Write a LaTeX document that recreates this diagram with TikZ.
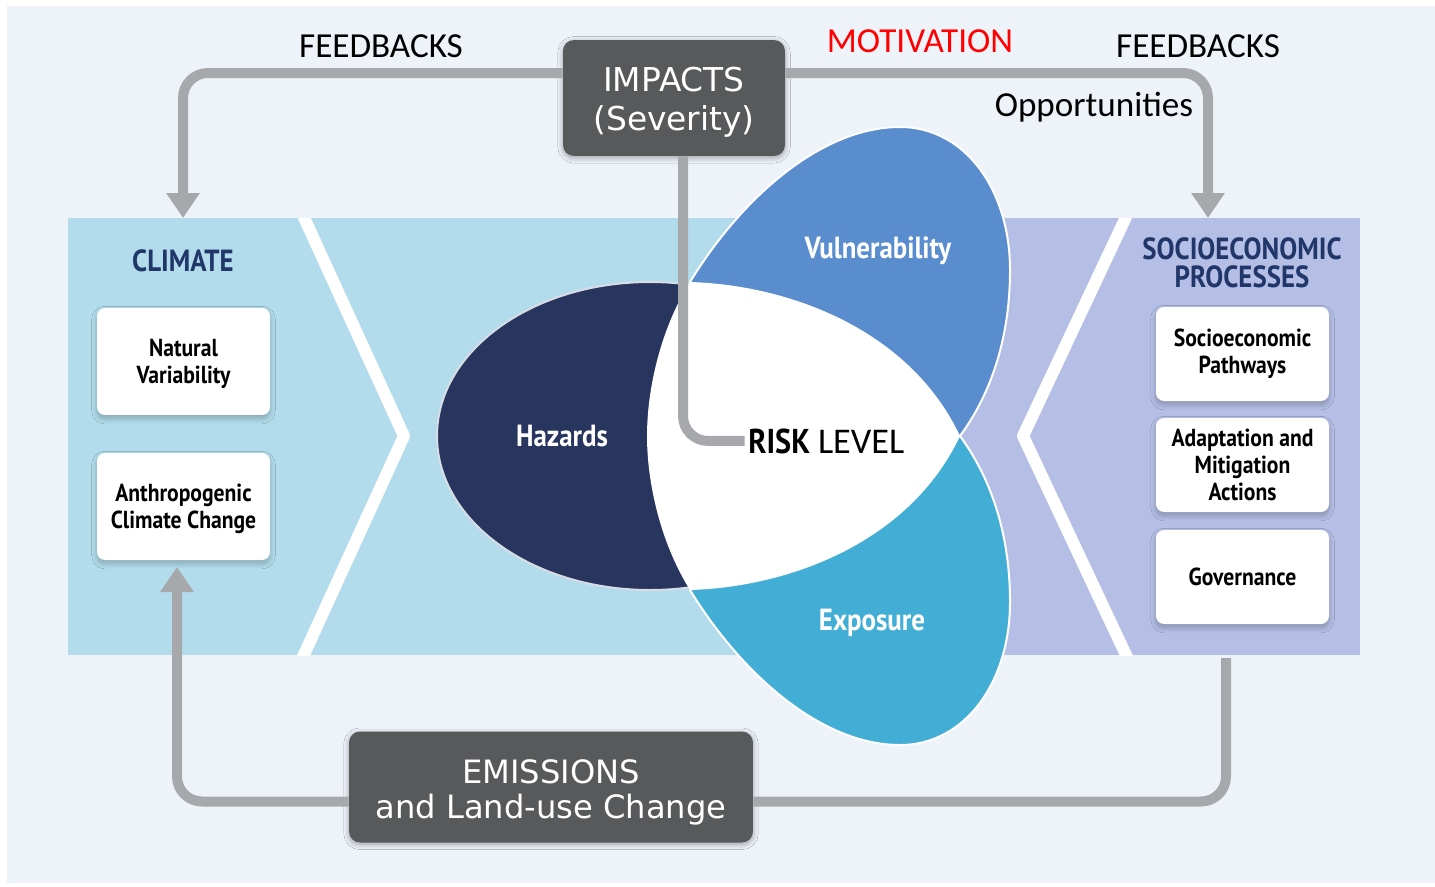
\documentclass[tikz,border=0pt]{standalone}
\usepackage{fontspec}
\usepackage{xcolor}
\usetikzlibrary{arrows.meta}
\usetikzlibrary{positioning}
\usetikzlibrary{shadows.blur}
\setmainfont{Carlito}
\newfontfamily\verdfont{DejaVu Sans}
\newfontfamily\condbf[FakeStretch=0.88]{PT Sans Bold}
\definecolor{bgblue}{HTML}{EEF3FA}
\definecolor{climblue}{HTML}{B2DCEB}
\definecolor{socililac}{HTML}{B5BFE6}
\definecolor{hazblue}{HTML}{28355F}
\definecolor{hazline}{HTML}{D8DCE4}
\definecolor{vulblue}{HTML}{5A8DCE}
\definecolor{expblue}{HTML}{43AED5}
\definecolor{boxgray}{HTML}{58595B}
\definecolor{flowgray}{HTML}{A7A8AC}
\definecolor{titleblue}{HTML}{213669}
\newcommand\toptextfont{\fontsize{20}{24}\selectfont}
\newcommand\impfont{\verdfont\fontsize{18.7}{22.1}\selectfont}
\newcommand\emisfont{\verdfont\fontsize{18.3}{19.9}\selectfont}
\newcommand\boxfont{\condbf\fontsize{14}{15.3}\selectfont}
\newcommand\titlefont{\condbf\fontsize{17.4}{18}\selectfont}
\newcommand\petalfont{\condbf\fontsize{17.4}{19}\selectfont}

\begin{document}
\begin{tikzpicture}[x=0.02cm, y=-0.02cm,
		flow/.style={draw=flowgray, line width=0.2cm, rounded corners=0.5cm},
		flowhead/.style={-{Triangle[width=0.64cm, length=0.5cm]}},
		greybox/.style={fill=boxgray, rounded corners=0.22cm, text=white, align=center,
			blur shadow={shadow xshift=0pt, shadow yshift=-1pt, shadow blur radius=3pt, shadow blur steps=10, shadow opacity=35}},
		whitebox/.style={fill=white, rounded corners=0.16cm, align=center, inner sep=0pt,
			minimum width=3.46cm, font=\boxfont,
			blur shadow={shadow xshift=0pt, shadow yshift=-2pt, shadow blur radius=3pt, shadow blur steps=10, shadow opacity=25}},
		petal/.style={draw=white, line width=0.04cm},
		title/.style={text=titleblue, anchor=base, inner sep=0pt, font=\titlefont},
		petallbl/.style={text=white, anchor=base, font=\petalfont},
		toptext/.style={anchor=base, font=\toptextfont}]
		% backdrop
		\fill[white] (0,0) rectangle (1435,886);
		\fill[bgblue] (7,6) rectangle (1435,883);
		\useasboundingbox (0,0) rectangle (1435,886);

		% climate and socioeconomic bands with their chevrons
		\fill[climblue] (68,218) rectangle (900,655);
		\fill[socililac] (900,218) rectangle (1360,655);
		\begin{scope}
			\clip (68,218) rectangle (1360,655);
			\draw[white, line width=0.24cm, line join=round] (296,200) -- (404,436) -- (296,672);
			\draw[white, line width=0.24cm, line join=round] (1134,200) -- (1023,436) -- (1134,672);
		\end{scope}

		% the three petals and the white core
		\filldraw[fill=hazblue, draw=hazline, line width=0.04cm] (650,436) ellipse [x radius=213, y radius=154];
		\filldraw[petal, fill=vulblue] (690,282) .. controls (740,200) and (820,127) .. (900,127)
			.. controls (965,127) and (1010,190) .. (1010,270)
			.. controls (1010,340) and (990,395) .. (960,436) -- cycle;
		\filldraw[petal, fill=expblue] (960,436) .. controls (990,477) and (1010,532) .. (1010,602)
			.. controls (1010,682) and (965,745) .. (900,745)
			.. controls (820,745) and (740,672) .. (690,590) -- cycle;
		\fill[white] (690,282) .. controls (790,285) and (910,330) .. (960,436)
			.. controls (910,542) and (790,587) .. (690,590)
			.. controls (660,542) and (647,482) .. (647,436)
			.. controls (647,390) and (660,330) .. cycle;

		\node[petallbl] (hazlbl) at (562,446) {Hazards};
		\node[petallbl] (vullbl) at (878,258) {Vulnerability};
		\node[petallbl] (explbl) at (872,630) {Exposure};
		\node[anchor=base west, inner sep=0pt] (risk) at (748,453)
			{{\condbf\fontsize{19.6}{22}\selectfont RISK}\hspace{0.45em}{\fontsize{20.6}{22}\selectfont LEVEL}};

		% side panels
		\node[title] (climtitle) at (183,271) {CLIMATE};
		\node[whitebox, minimum height=2.14cm] (natvar) at (183.5,361.5) {\rule{0pt}{0.9em}Natural\\Variability};
		\node[whitebox, minimum height=2.14cm] (anthro) at (183.5,506.5) {\rule{0pt}{0.9em}Anthropogenic\\Climate Change};

		\node[title] (socititle) at (1242,259) {SOCIOECONOMIC};
		\node[title] (proctitle) at (1242,287) {PROCESSES};
		\node[whitebox, minimum height=1.88cm] (sepath) at (1242.5,354) {Socioeconomic\\Pathways};
		\node[whitebox, minimum height=1.88cm] (adapt) at (1242.5,465) {Adaptation and\\Mitigation\\Actions};
		\node[whitebox, minimum height=1.88cm] (govern) at (1242.5,577) {Governance};

		% drivers
		\node[greybox, minimum width=4.44cm, minimum height=2.32cm, font=\impfont] (impacts) at (674,98) {\rule{0pt}{1em}IMPACTS\\(Severity)};
		\node[greybox, minimum width=8.08cm, minimum height=2.22cm, font=\emisfont] (emis) at (551,787) {\rule{0pt}{1.05em}EMISSIONS\\and Land-use Change};

		\node[toptext] (fbleft) at (381,57) {FEEDBACKS};
		\node[toptext] (fbright) at (1198,57) {FEEDBACKS};
		\node[toptext, text=red] (motiv) at (920,52) {MOTIVATION};
		\node[toptext] (oppo) at (1094,116) {Opportunities};

		% loops
		\coordinate (climtop) at (183,218);
		\coordinate (socitop) at (1208,218);
		\coordinate (climbot) at (177,567);
		\coordinate (socibot) at (1226,658);
		\draw[flow, flowhead] ([yshift=0.5cm]impacts.west) -| (climtop);
		\draw[flow, flowhead] ([yshift=0.5cm]impacts.east) -| (socitop);
		\draw[flow] ([xshift=0.18cm]impacts.south) |- ([xshift=-2pt]risk.west);
		\draw[flow, flowhead] ([yshift=-0.29cm]emis.west) -| (climbot);
		\draw[flow] ([yshift=-0.29cm]emis.east) -| (socibot);
	\end{tikzpicture}
\end{document}
